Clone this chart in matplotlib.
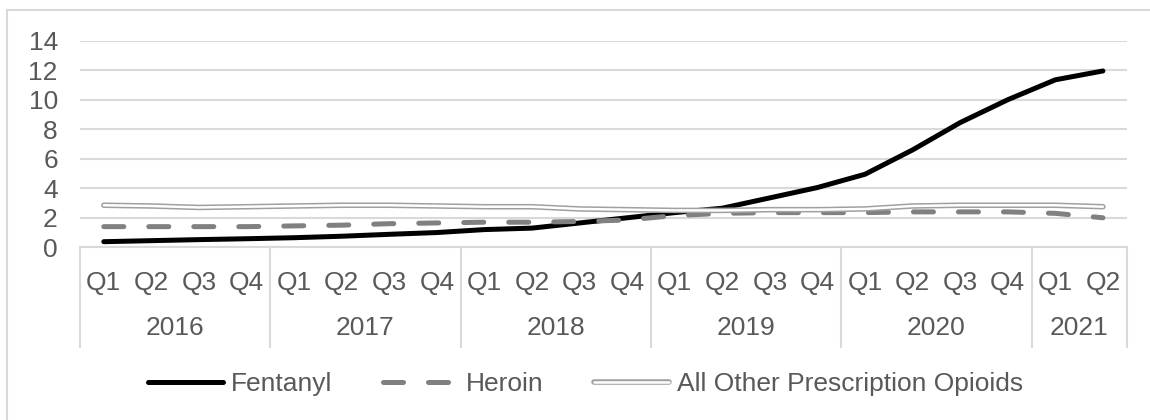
import numpy as np
import matplotlib
matplotlib.use('Agg')
import matplotlib.pyplot as plt
from matplotlib.lines import Line2D

plt.rcParams['font.family'] = ['Liberation Sans', 'DejaVu Sans']

# quarterly values
quarters = ['Q1', 'Q2', 'Q3', 'Q4'] * 5 + ['Q1', 'Q2']
years = ['2016', '2017', '2018', '2019', '2020', '2021']
year_sizes = [4, 4, 4, 4, 4, 2]

fentanyl = [0.38, 0.45, 0.52, 0.58, 0.65, 0.75, 0.88, 1.0, 1.2, 1.3, 1.65, 2.0,
            2.35, 2.65, 3.35, 4.05, 4.95, 6.6, 8.45, 10.0, 11.35, 11.95]
heroin = [1.4, 1.4, 1.4, 1.4, 1.45, 1.5, 1.6, 1.65, 1.7, 1.7, 1.75, 1.85,
          2.15, 2.3, 2.35, 2.35, 2.35, 2.4, 2.4, 2.4, 2.3, 2.0]
other = [2.85, 2.8, 2.7, 2.75, 2.8, 2.85, 2.85, 2.8, 2.75, 2.75, 2.6, 2.55,
         2.5, 2.5, 2.55, 2.55, 2.6, 2.8, 2.85, 2.85, 2.85, 2.75]

txt = '#595959'
grid = '#d9d9d9'
fs = 19

W, H = 1150, 420
fig = plt.figure(figsize=(W/100, H/100), dpi=100)
ax = fig.add_axes([80/W, 1-247.3/H, (1126.7-80)/W, (247.3-40.7)/H])

x = np.arange(len(quarters))
lf, = ax.plot(x, fentanyl, color='black', lw=3.6, solid_capstyle='round',
              solid_joinstyle='round', zorder=3)
lh, = ax.plot(x, heroin, color='#808080', lw=3.6, dashes=(4, 5),
              dash_capstyle='round', zorder=4)
lo1, = ax.plot(x, other, color='#a0a0a0', lw=4.0, solid_capstyle='round', zorder=5)
lo2, = ax.plot(x, other, color='white', lw=1.8, solid_capstyle='round', zorder=6)

ax.set_xlim(-0.5, len(quarters)-0.5)
ax.set_ylim(0, 14)
ax.set_yticks(range(0, 15, 2))
ax.tick_params(axis='y', length=0, pad=16, labelsize=fs, labelcolor=txt)
ax.set_xticks([])
ax.grid(axis='y', color=grid, lw=1.5)
ax.set_axisbelow(True)
for s in ['top', 'right', 'left']:
    ax.spines[s].set_visible(False)
ax.spines['bottom'].set_color(grid)
ax.spines['bottom'].set_linewidth(1.5)

# two-level category axis
tr = ax.get_xaxis_transform()
for i, q in enumerate(quarters):
    ax.text(i, -0.173, q, transform=tr, ha='center', va='center',
            fontsize=fs, color=txt)
start = 0
bounds = [-0.5]
for y, n in zip(years, year_sizes):
    ax.text(start + (n-1)/2, -0.392, y, transform=tr, ha='center', va='center',
            fontsize=fs, color=txt)
    start += n
    bounds.append(start - 0.5)
for b in bounds:
    ax.plot([b, b], [0, -0.481], transform=tr, color=grid, lw=1.5, clip_on=False)

# chart border
fig.add_artist(Line2D([7/W, 1], [1-10/H, 1-10/H], color=grid, lw=1.5))
fig.add_artist(Line2D([7/W, 7/W], [0, 1-10/H], color=grid, lw=1.5))

fig.legend([lf, lh, (lo1, lo2)], ['Fentanyl', 'Heroin', 'All Other Prescription Opioids'],
           loc='center', bbox_to_anchor=(585.5/W, 1-384/H), ncol=3, frameon=False,
           fontsize=fs, labelcolor=txt, handlelength=2.85, handletextpad=0.3,
           columnspacing=1.9, borderpad=0, borderaxespad=0)

fig.savefig('out.png', dpi=100)
